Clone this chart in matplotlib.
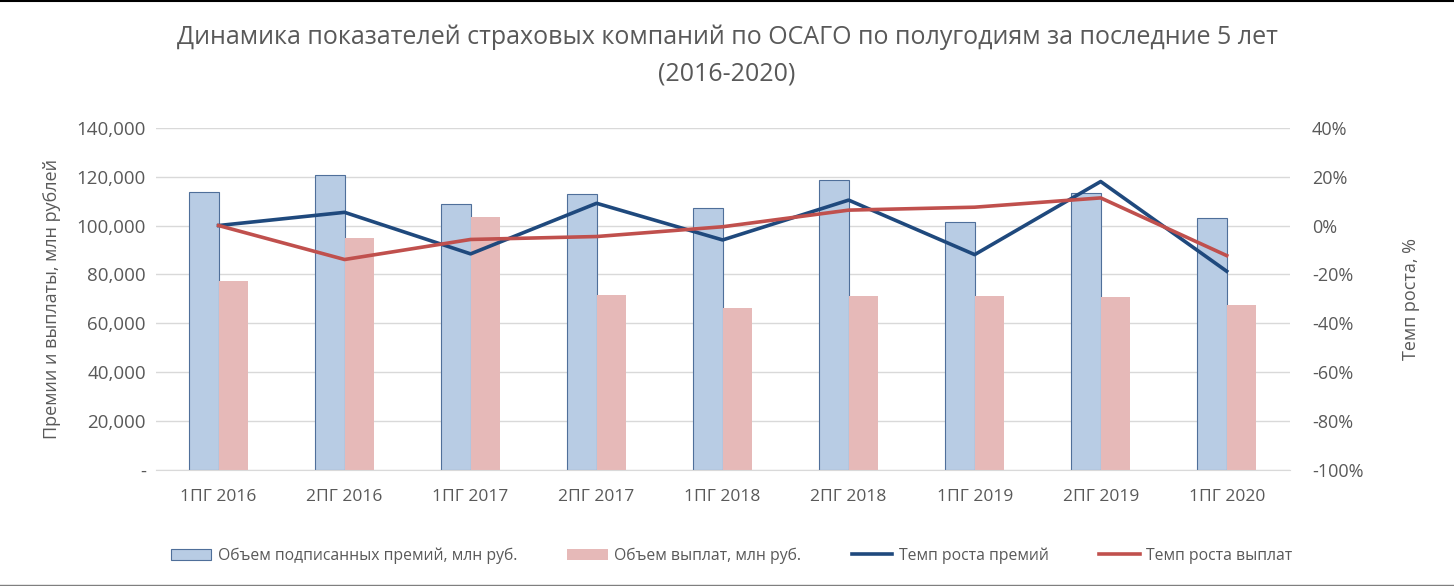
import matplotlib
matplotlib.use("Agg")
import matplotlib.pyplot as plt
import numpy as np
from matplotlib.ticker import FuncFormatter, MultipleLocator
from matplotlib.lines import Line2D

plt.rcParams['font.family'] = ['Open Sans', 'DejaVu Sans']

periods = ["1ПГ 2016", "2ПГ 2016", "1ПГ 2017", "2ПГ 2017", "1ПГ 2018",
           "2ПГ 2018", "1ПГ 2019", "2ПГ 2019", "1ПГ 2020"]
premiums = [113700, 120500, 109000, 112800, 107000, 118600, 101400, 113300, 103000]
payouts = [77200, 95000, 103600, 71600, 66300, 71200, 71200, 70700, 67400]
premium_growth = [0.0, 5.4, -11.6, 9.1, -5.9, 10.4, -11.9, 18.0, -18.7]
payout_growth = [0.0, -13.9, -5.7, -4.5, -0.5, 6.3, 7.5, 11.3, -12.3]

GRAY = "#595959"
GRID = "#D9D9D9"

fig = plt.figure(figsize=(14.54, 5.86), dpi=100)
ax = fig.add_axes([0.107, 0.198, 0.78, 0.584])
ax2 = ax.twinx()

x = np.arange(len(periods))
w = 0.235
b1 = ax.bar(x - w / 2, premiums, w, color="#B8CCE4", edgecolor="#4F6F9A", linewidth=0.8,
            label="Объем подписанных премий, млн руб.", zorder=2)
b2 = ax.bar(x + w / 2, payouts, w, color="#E6B9B8", edgecolor="none",
            label="Объем выплат, млн руб.", zorder=2)

l1, = ax2.plot(x, premium_growth, color="#1F497D", lw=2.6, label="Темп роста премий", zorder=3)
l2, = ax2.plot(x, payout_growth, color="#C0504D", lw=2.6, label="Темп роста выплат", zorder=3)

ax.set_xlim(-0.5, len(periods) - 0.5)
ax.set_ylim(0, 140000)
ax.yaxis.set_major_locator(MultipleLocator(20000))
ax.yaxis.set_major_formatter(FuncFormatter(lambda v, p: "-" if v == 0 else "{:,.0f}".format(v)))
ax2.set_ylim(-100, 40)
ax2.yaxis.set_major_locator(MultipleLocator(20))
ax2.yaxis.set_major_formatter(FuncFormatter(lambda v, p: "{:.0f}%".format(v)))

ax.grid(axis="y", color=GRID, lw=1, zorder=0)
ax.set_axisbelow(True)
for a in (ax, ax2):
    for s in a.spines.values():
        s.set_visible(False)
ax.spines["bottom"].set_visible(True)
ax.spines["bottom"].set_color(GRID)

ax.set_xticks(x)
ax.set_xticklabels(periods)
ax.tick_params(axis="x", length=0, pad=14, labelsize=12.5, labelcolor=GRAY)
ax.tick_params(axis="y", length=0, pad=7, labelsize=13.5, labelcolor=GRAY)
ax2.tick_params(axis="y", length=0, pad=16, labelsize=13, labelcolor=GRAY)

ax.set_ylabel("Премии и выплаты, млн рублей", fontsize=13, color=GRAY, labelpad=11)
ax2.set_ylabel("Темп роста, %", fontsize=13, color=GRAY, labelpad=28)

fig.suptitle("Динамика показателей страховых компаний по ОСАГО по полугодиям за последние 5 лет\n(2016-2020)",
             fontsize=18, color=GRAY, y=0.958, linespacing=1.6)

fig.legend(handles=[b1, b2, l1, l2], loc="center", bbox_to_anchor=(0.503, 0.052), ncol=4,
           frameon=False, fontsize=11.3, labelcolor=GRAY, columnspacing=3.2,
           handlelength=2.6, handletextpad=0.4)

# thin frame lines at top and bottom edges, as in the screenshot
fig.add_artist(Line2D([0, 1], [0.999, 0.999], color="black", lw=1.5, transform=fig.transFigure))
fig.add_artist(Line2D([0, 1], [0.002, 0.002], color="#7f7f7f", lw=1, transform=fig.transFigure))

fig.savefig("out.png", dpi=100)
